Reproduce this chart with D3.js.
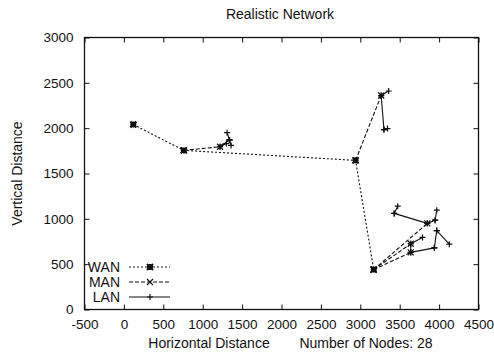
<!DOCTYPE html>
<html><head><meta charset="utf-8">
<script src="https://cdn.jsdelivr.net/npm/d3@7"></script>
<style>
body{margin:0;background:#fff;}
svg{display:block;}
text{font-family:"Liberation Sans",Arial,Helvetica,sans-serif;fill:#111;}
</style></head>
<body>
<svg id="chart" width="494" height="359"></svg>
<script>
// ---- data ----
const xTicks = [-500,0,500,1000,1500,2000,2500,3000,3500,4000,4500];
const yTicks = [0,500,1000,1500,2000,2500,3000];
const seriesNames = ["WAN","MAN","LAN"];
// WAN backbone (dotted)
const wanLines = [
  [[120,2040],[760,1755],[2940,1645],[3170,440]]
];
// MAN links (dashed)
const manLines = [
  [[760,1755],[1220,1795]],
  [[2940,1645],[3265,2360]],
  [[3170,440],[3850,950]],
  [[3170,440],[3640,630]],
  [[3170,440],[3640,725]]
];
// LAN links (solid)
const lanLines = [
  [[1220,1795],[1340,1870]],
  [[1340,1870],[1310,1950]],
  [[1340,1870],[1360,1810]],
  [[1220,1795],[1300,1830]],
  [[3265,2360],[3360,2410]],
  [[3265,2360],[3300,1985]],
  [[3300,1985],[3345,1995]],
  [[3850,950],[3430,1060]],
  [[3430,1060],[3475,1140]],
  [[3850,950],[3950,985]],
  [[3950,985],[3970,1095]],
  [[3640,630],[3940,680]],
  [[3640,630],[3640,725]],
  [[3640,725],[3790,795]],
  [[3940,680],[3970,870]],
  [[3970,870],[4130,720]]
];
const nodeCount = 28;

// ---- drawing ----
const svg = d3.select("#chart");
const x = d3.scaleLinear().domain([-500,4500]).range([84.5,478.5]);
const y = d3.scaleLinear().domain([0,3000]).range([309.5,37.5]);
const fs = 14;
const tfs = 13.5;
const fmt = d => String(d);

const styles = {
  WAN:{lines:wanLines, dash:"2,2", marker:"star"},
  MAN:{lines:manLines, dash:"4,2", marker:"x"},
  LAN:{lines:lanLines, dash:null, marker:"plus"}
};

// axes with inward ticks on all four sides
const gB = svg.append("g").attr("transform",`translate(0,${y(0)})`)
  .call(d3.axisBottom(x).tickValues(xTicks).tickFormat(fmt).tickSizeInner(-5).tickSizeOuter(0).tickPadding(10));
const gT = svg.append("g").attr("transform",`translate(0,${y(3000)})`)
  .call(d3.axisTop(x).tickValues(xTicks).tickSizeInner(-5).tickSizeOuter(0).tickFormat(""));
const gL = svg.append("g").attr("transform",`translate(${x(-500)},0)`)
  .call(d3.axisLeft(y).tickValues(yTicks).tickFormat(fmt).tickSizeInner(-5).tickSizeOuter(0).tickPadding(11));
const gR = svg.append("g").attr("transform",`translate(${x(4500)},0)`)
  .call(d3.axisRight(y).tickValues(yTicks).tickSizeInner(-5).tickSizeOuter(0).tickFormat(""));
[gB,gT,gL,gR].forEach(g=>{
  g.select(".domain").remove();
  g.selectAll("line").attr("stroke","#111").attr("stroke-width",1);
  g.selectAll("text").style("font-size",tfs+"px").attr("fill","#111")
   .style("font-family",'"Liberation Sans",Arial,sans-serif');
});
svg.append("rect").attr("x",x(-500)).attr("y",y(3000))
  .attr("width",x(4500)-x(-500)).attr("height",y(0)-y(3000))
  .attr("fill","none").attr("stroke","#111").attr("stroke-width",1.3);

// titles
svg.append("text").attr("x",280).attr("y",19).attr("text-anchor","middle")
  .style("font-size",fs+"px").text("Realistic Network");
svg.append("text").attr("transform",`translate(22,${(y(0)+y(3000))/2}) rotate(-90)`)
  .attr("text-anchor","middle").style("font-size",fs+"px").text("Vertical Distance");
svg.append("text").attr("x",209).attr("y",348).attr("text-anchor","middle")
  .style("font-size",fs+"px").text("Horizontal Distance");
svg.append("text").attr("x",366).attr("y",348).attr("text-anchor","middle")
  .style("font-size",fs+"px").text("Number of Nodes: " + nodeCount);

function drawMarker(g, type, cx, cy){
  const s = 3;
  const p = d3.path();
  if(type==="plus"||type==="star"){ p.moveTo(cx-s,cy); p.lineTo(cx+s,cy); p.moveTo(cx,cy-s); p.lineTo(cx,cy+s); }
  if(type==="x"||type==="star"){ p.moveTo(cx-s,cy-s); p.lineTo(cx+s,cy+s); p.moveTo(cx-s,cy+s); p.lineTo(cx+s,cy-s); }
  g.append("path").attr("d",p.toString()).attr("stroke","#111")
    .attr("stroke-width",type==="star"?2:1.2).attr("fill","none");
  if(type==="star"){
    g.append("rect").attr("x",cx-2.5).attr("y",cy-2.5).attr("width",5).attr("height",5).attr("fill","#111");
  }
}

const line = d3.line().x(d=>x(d[0])).y(d=>y(d[1]));
const plot = svg.append("g");
seriesNames.forEach(name=>{
  const st = styles[name];
  const g = plot.append("g");
  st.lines.forEach(pl=>{
    g.append("path").attr("d",line(pl)).attr("fill","none").attr("stroke","#111")
      .attr("stroke-width",1.1).attr("stroke-dasharray",st.dash);
    pl.forEach(pt=>drawMarker(g, st.marker, x(pt[0]), y(pt[1])));
  });
});

// legend
const lg = svg.append("g");
seriesNames.forEach((name,i)=>{
  const cy = 267 + i*15;
  const st = styles[name];
  lg.append("text").attr("x",120).attr("y",cy+5).attr("text-anchor","end")
    .style("font-size",fs+"px").text(name);
  lg.append("line").attr("x1",129).attr("x2",170).attr("y1",cy).attr("y2",cy)
    .attr("stroke","#111").attr("stroke-width",1.1).attr("stroke-dasharray",st.dash);
  drawMarker(lg, st.marker, 150, cy);
});
</script>
</body></html>
